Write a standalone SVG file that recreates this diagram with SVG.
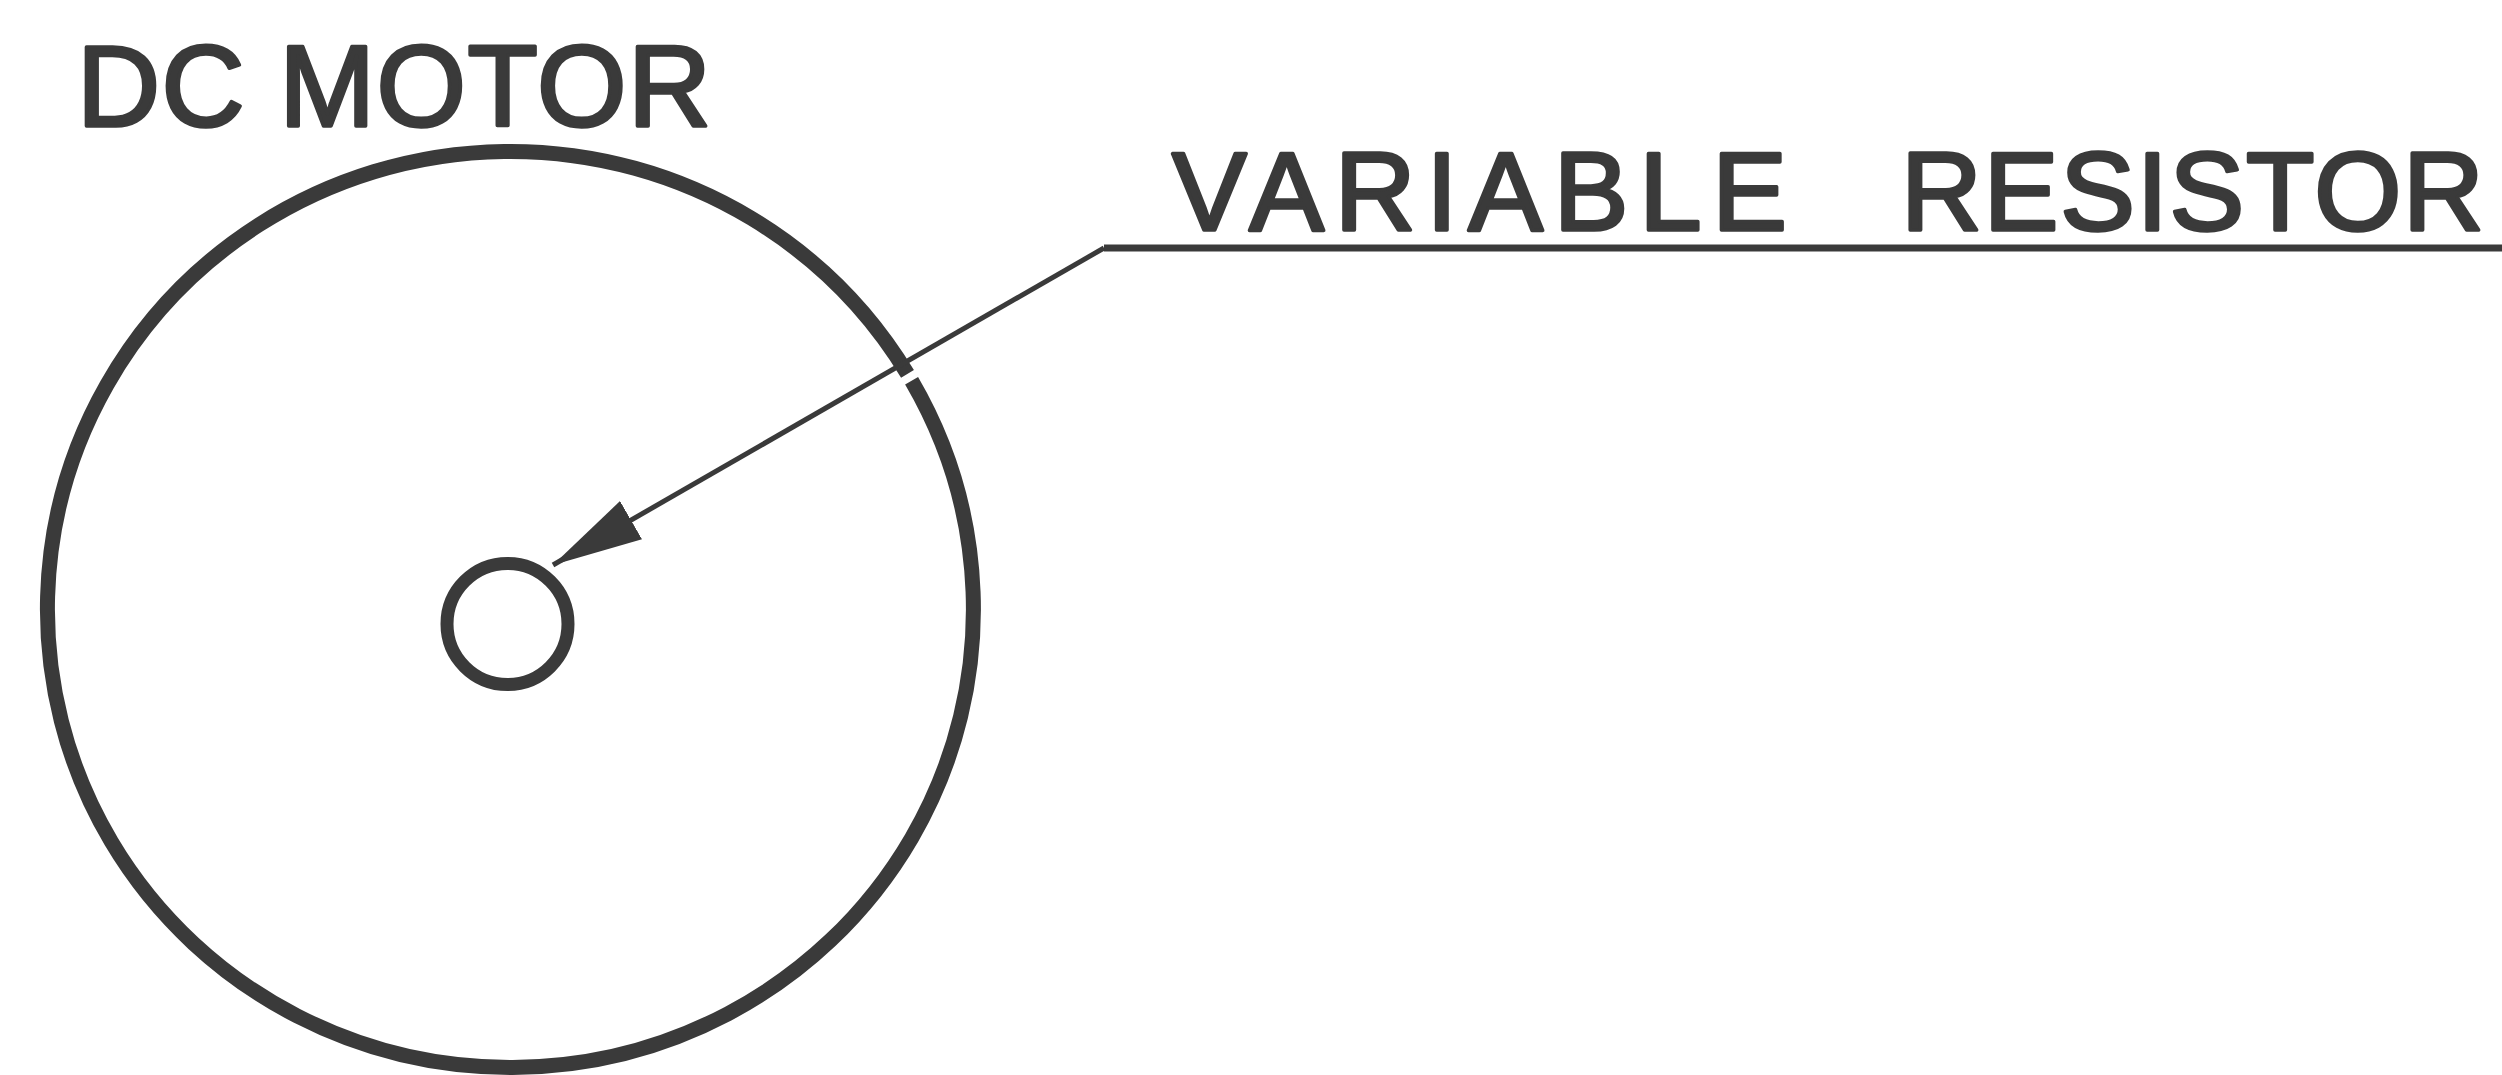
<svg xmlns="http://www.w3.org/2000/svg" width="2502" height="1075" viewBox="0 0 2502 1075">
<style>
.lbl{font-family:"Liberation Sans",Arial,Helvetica,sans-serif;fill:#3a3a3a;stroke:#3a3a3a;stroke-width:3.5;stroke-linejoin:round;}
.ring{fill:none;stroke:#3a3a3a;}
.conn{fill:none;stroke:#3a3a3a;stroke-linejoin:miter;}
</style>
<defs>
<marker id="arrow" markerUnits="userSpaceOnUse" markerWidth="92" markerHeight="46" refX="90" refY="23" orient="auto">
<path d="M0,1 L90,23 L0,45 z" fill="#3a3a3a"/>
</marker>
</defs>
<rect width="2502" height="1075" fill="#ffffff"/>
<g id="dc-motor">
<text class="lbl" x="77" y="126" font-size="115" textLength="634" lengthAdjust="spacing">DC MOTOR</text>
<path class="ring" stroke-width="15" d="M 911.6 380.8 A 463 458 0 1 1 907.5 373.9"/>
</g>
<g id="shaft">
<circle class="ring" cx="507.5" cy="624" r="60.5" stroke-width="13"/>
</g>
<g id="variable-resistor">
<text class="lbl" y="230" font-size="112"><tspan x="1172" textLength="615" lengthAdjust="spacing">VARIABLE</tspan><tspan x="1901" textLength="583" lengthAdjust="spacing">RESISTOR</tspan></text>
</g>
<g id="connectors">
<path class="conn" stroke-width="7" d="M 2502 248 L 1104 248"/>
<path class="conn" stroke-width="5" d="M 1104 248 L 553 565" marker-end="url(#arrow)"/>
</g>
</svg>
